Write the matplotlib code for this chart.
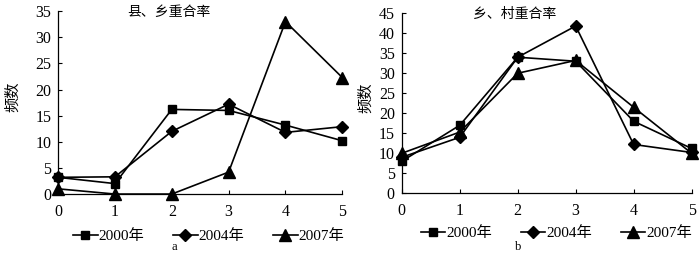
import matplotlib
matplotlib.use('Agg')
import matplotlib.pyplot as plt

# 字体：数字用衬线体，中文回退到 Noto Sans CJK SC
plt.rcParams['font.family'] = ['Liberation Serif', 'Noto Sans CJK SC']
plt.rcParams['axes.unicode_minus'] = False

# --------------------------
# 数据
# --------------------------
x_vals = [0, 1, 2, 3, 4, 5]
years = ['2000年', '2004年', '2007年']
markers = ['s', 'D', '^']
marker_sizes = [6, 6, 8]

# 图 a：县、乡重合率
a_2000 = [3.2, 2.0, 16.2, 16.0, 13.2, 10.2]
a_2004 = [3.2, 3.3, 12.0, 17.2, 11.8, 12.9]
a_2007 = [1.0, 0.0, 0.0, 4.2, 33.0, 22.3]

# 图 b：乡、村重合率
b_2000 = [8.0, 17.0, 34.0, 33.0, 18.0, 11.2]
b_2004 = [9.0, 14.0, 34.0, 41.8, 12.2, 10.2]
b_2007 = [10.0, 15.3, 30.0, 33.2, 21.5, 10.0]

panels = [
    dict(title='县、乡重合率', series=[a_2000, a_2004, a_2007],
         ymax=35, ystep=5, label='a', rect=[0.083, 0.236, 0.406, 0.72],
         ylab_x=-0.134, leg=(0.53, -0.23), lab=(0.41, -0.29)),
    dict(title='乡、村重合率', series=[b_2000, b_2004, b_2007],
         ymax=45, ystep=5, label='b', rect=[0.574, 0.239, 0.414, 0.709],
         ylab_x=-0.10, leg=(0.533, -0.22), lab=(0.40, -0.30)),
]

fig = plt.figure(figsize=(7.0, 2.54), dpi=100)

for p in panels:
    ax = fig.add_axes(p['rect'])
    for vals, name, m, ms in zip(p['series'], years, markers, marker_sizes):
        ax.plot(x_vals, vals, color='black', linewidth=1.2,
                marker=m, markersize=ms, label=name, clip_on=False)

    ax.set_xlim(0, 5)
    ax.set_ylim(0, p['ymax'])
    ax.set_xticks(x_vals)
    ax.set_yticks(range(0, p['ymax'] + 1, p['ystep']))
    ax.tick_params(direction='in', length=3, width=0.8, labelsize=11.5)
    ax.tick_params(axis='x', pad=7)
    ax.tick_params(axis='y', pad=5)
    ax.spines['top'].set_visible(False)
    ax.spines['right'].set_visible(False)
    for s in ['left', 'bottom']:
        ax.spines[s].set_linewidth(0.9)

    ax.set_ylabel('频数', fontsize=11)
    ax.yaxis.set_label_coords(p['ylab_x'], 0.53)
    ax.text(0.39, 0.995, p['title'], transform=ax.transAxes,
            ha='center', va='center', fontsize=10)

    ax.legend(loc='center', bbox_to_anchor=p['leg'], ncol=3,
              frameon=False, fontsize=11, handlelength=1.6, handletextpad=0.05,
              columnspacing=1.9, borderaxespad=0, borderpad=0)
    ax.text(p['lab'][0], p['lab'][1], p['label'], transform=ax.transAxes,
            ha='center', va='center', fontsize=9)

fig.savefig('out.png', dpi=100)
